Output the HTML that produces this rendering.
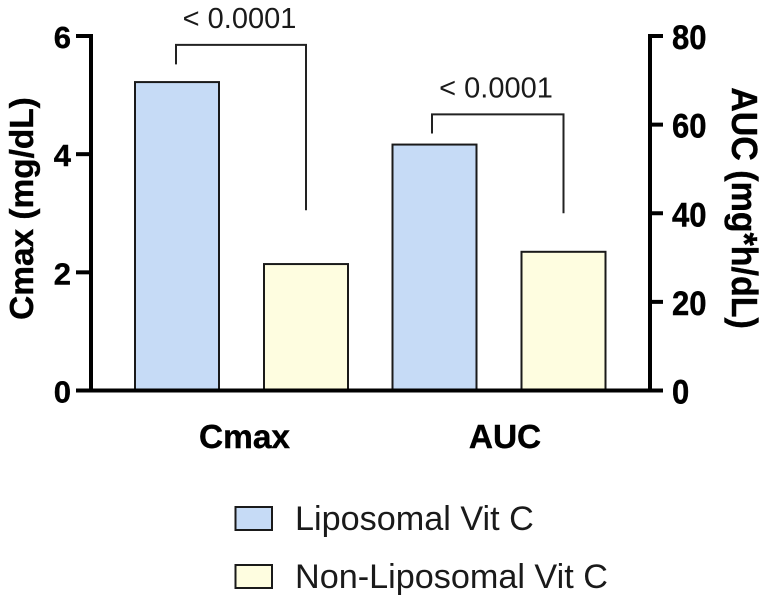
<!DOCTYPE html>
<html lang="en">
<head>
<meta charset="utf-8">
<title>Cmax and AUC of Liposomal and Non-Liposomal Vit C</title>
<style>
  html, body { margin: 0; padding: 0; background: #fff; }
  svg { display: block; font-family: "Liberation Sans", Arial, sans-serif; }
</style>
</head>
<body>
<svg id="chart" xmlns="http://www.w3.org/2000/svg" width="768" height="602" viewBox="0 0 768 602"></svg>
<script>
const categories = ['Cmax', 'AUC'];
const seriesNames = ['Liposomal Vit C', 'Non-Liposomal Vit C'];
const cmaxValues = [5.22, 2.14];
const aucValues = [55.5, 31.3];
const leftTicks = [0, 2, 4, 6];
const rightTicks = [0, 20, 40, 60, 80];
const pLabels = ['< 0.0001', '< 0.0001'];
const cmaxBracket = [5.85, 5.52, 3.05];
const aucBracket = [62.3, 58.0, 40.0];

const svg = document.getElementById('chart');
const NS = 'http://www.w3.org/2000/svg';
const colors = ['#c6dbf6', '#fefde0'];
const y0 = 390.5, yTop = 36;
const yLeft = v => y0 - (v / 6) * (y0 - yTop);
const yRight = v => y0 - (v / 80) * (y0 - yTop);
const xBar = (groupIndex, seriesIndex) => 135 + groupIndex * 257.5 + seriesIndex * 129;
const barWidth = 84;
const bracketLeftShift = [-1, -2.5];

function add(tag, attrs, text) {
  const el = document.createElementNS(NS, tag);
  for (const k in attrs) el.setAttribute(k, attrs[k]);
  if (text !== undefined) el.textContent = text;
  svg.appendChild(el);
  return el;
}

// bars
[cmaxValues, aucValues].forEach((vals, g) => {
  const scale = g === 0 ? yLeft : yRight;
  vals.forEach((v, s) => {
    const el = add('rect', { x: xBar(g, s), y: scale(v), width: barWidth, height: y0 - scale(v), fill: colors[s], stroke: '#1a1a1a', 'stroke-width': 2 });
    
    
  });
});

// axes
const axisX = add('line', { x1: 76, y1: y0, x2: 663, y2: y0, stroke: '#000', 'stroke-width': 4 });


const axisL = add('line', { x1: 91, y1: yTop - 2, x2: 91, y2: y0, stroke: '#000', 'stroke-width': 4 });


const axisR = add('line', { x1: 650, y1: yTop - 2, x2: 650, y2: y0, stroke: '#000', 'stroke-width': 4 });



leftTicks.forEach(t => {
  const tick = add('line', { x1: 76, y1: yLeft(t), x2: 91, y2: yLeft(t), stroke: '#000', 'stroke-width': 4 });
  
  
  const label = add('text', { x: 71, y: yLeft(t) + 12, 'text-anchor': 'end', 'font-size': 31, 'font-weight': 'bold', fill: '#000', stroke: '#000', 'stroke-width': 0.4 }, t);
  
  
});
rightTicks.forEach(t => {
  const tick = add('line', { x1: 650, y1: yRight(t), x2: 663, y2: yRight(t), stroke: '#000', 'stroke-width': 4 });
  
  
  const label = add('text', { transform: `translate(672 ${yRight(t) + 13}) scale(1 1.12)`, 'text-anchor': 'start', 'font-size': 31, 'font-weight': 'bold', fill: '#000', stroke: '#000', 'stroke-width': 0.4 }, t);
  
  
});

// category labels
categories.forEach((c, g) => {
  const cx = g === 0 ? 244.5 : 505;
  const label = add('text', { x: cx, y: 448, 'text-anchor': 'middle', 'font-size': 33.4, 'font-weight': 'bold', fill: '#000', stroke: '#000', 'stroke-width': 0.4 }, c);
  
  
});

// axis titles
const leftTitle = add('text', { transform: 'translate(33 208.5) rotate(-90)', 'text-anchor': 'middle', 'font-size': 33.4, 'font-weight': 'bold', fill: '#000', stroke: '#000', 'stroke-width': 0.4 }, 'Cmax (mg/dL)');


const rightTitle = add('text', { transform: 'translate(732 208) rotate(90) scale(1 1.06)', 'text-anchor': 'middle', 'font-size': 34, 'font-weight': 'bold', fill: '#000', stroke: '#000', 'stroke-width': 0.4 }, 'AUC (mg*h/dL)');



// significance brackets
[cmaxBracket, aucBracket].forEach((b, g) => {
  const scale = g === 0 ? yLeft : yRight;
  const xa = xBar(g, 0) + barWidth / 2 + bracketLeftShift[g];
  const xb = xBar(g, 1) + barWidth / 2;
  const path = add('path', { d: `M${xa} ${scale(b[1])}V${scale(b[0])}H${xb}V${scale(b[2])}`, fill: 'none', stroke: '#222', 'stroke-width': 2 });
  
  
  const label = add('text', { x: g === 0 ? 239.5 : 496, y: scale(b[0]) - 17, 'text-anchor': 'middle', 'font-size': 29, fill: '#1a1a1a' }, pLabels[g]);
  
  
});

// legend
seriesNames.forEach((name, s) => {
  const top = 507 + s * 58;
  const swatch = add('rect', { x: 235.5, y: top, width: 36.5, height: 23, fill: colors[s], stroke: '#1a1a1a', 'stroke-width': 2 });
  
  
  const label = add('text', { x: 295, y: top + 23, 'font-size': 34.2, fill: '#1a1a1a' }, name);
  
  
});
</script>
</body>
</html>
